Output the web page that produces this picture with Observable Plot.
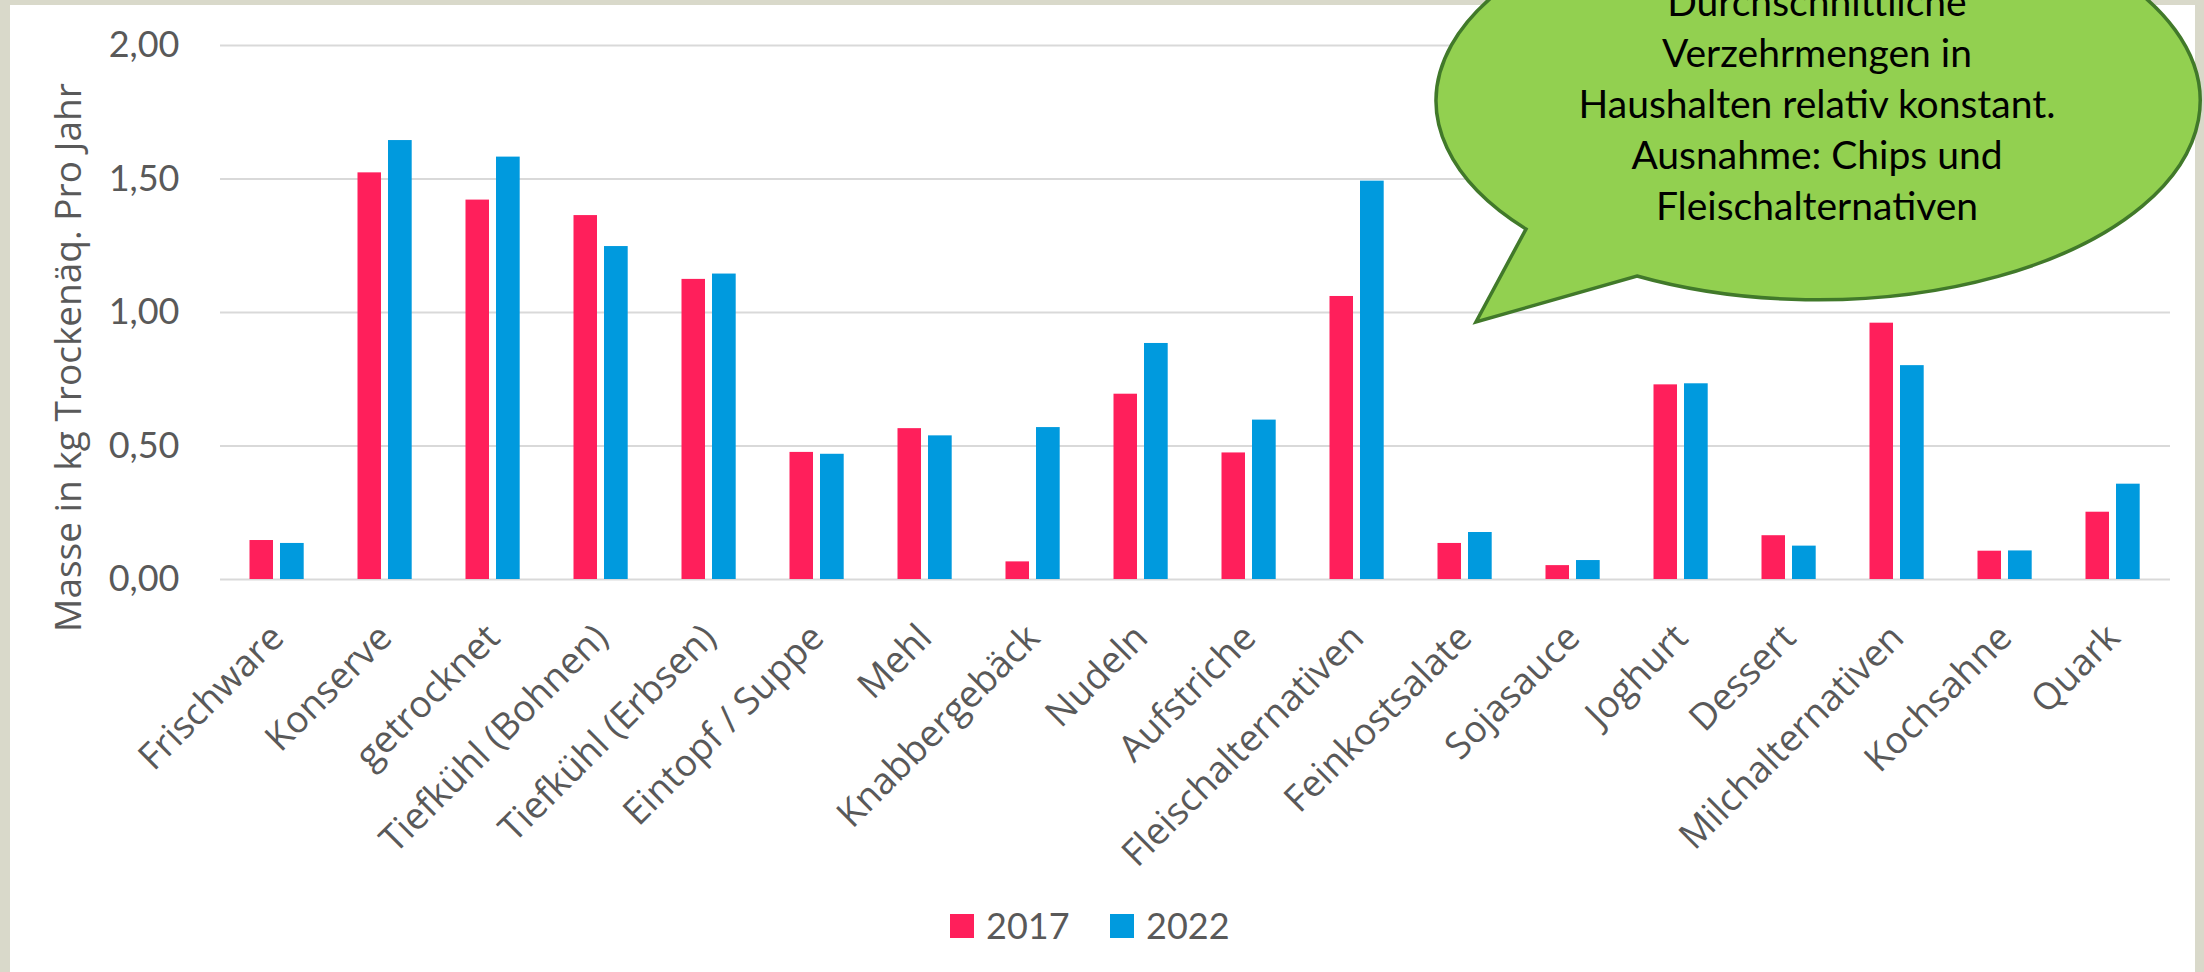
<!DOCTYPE html>
<html><head><meta charset="utf-8">
<script src="https://cdn.jsdelivr.net/npm/d3@7"></script>
<script src="https://cdn.jsdelivr.net/npm/@observablehq/plot@0.6"></script>
<style>
html,body{margin:0;padding:0;}
body{width:2204px;height:972px;position:relative;overflow:hidden;background:#d9d9ca;}
#white{position:absolute;left:10px;top:5px;width:2185px;height:967px;background:#fff;}
#chart{position:absolute;left:0;top:0;}
#legend{position:absolute;left:0;top:880px;}
#bubble{position:absolute;left:0;top:0;}
</style></head><body>
<div id="white"></div>
<div id="chart"></div>
<svg id="legend" width="2204" height="92"></svg>
<svg id="bubble" width="2204" height="972"></svg>
<script>
const categories = ["Frischware","Konserve","getrocknet","Tiefkühl (Bohnen)","Tiefkühl (Erbsen)","Eintopf / Suppe","Mehl","Knabbergebäck","Nudeln","Aufstriche","Fleischalternativen","Feinkostsalate","Sojasauce","Joghurt","Dessert","Milchalternativen","Kochsahne","Quark"];
const values2017 = [0.146,1.523,1.421,1.363,1.124,0.476,0.565,0.066,0.694,0.474,1.060,0.135,0.052,0.729,0.164,0.960,0.106,0.252];
const values2022 = [0.135,1.644,1.582,1.247,1.144,0.469,0.538,0.569,0.884,0.597,1.492,0.176,0.071,0.733,0.125,0.801,0.107,0.357];
const years = ["2017","2022"];
const colors = ["#FF1F5B","#009ADE"];
const yTicks = [0,0.5,1,1.5,2];
const yLabel = "Masse in kg Trockenäq. Pro Jahr";
const bubbleLines = ["Durchschnittliche","Verzehrmengen in","Haushalten relativ konstant.","Ausnahme: Chips und","Fleischalternativen"];

const rows2017 = categories.map((c,i)=>({category:c, value:values2017[i]}));
const rows2022 = categories.map((c,i)=>({category:c, value:values2022[i]}));

const chart = Plot.plot({
  width: 2204, height: 880,
  marginLeft: 220, marginRight: 34, marginTop: 45, marginBottom: 301,
  style: {background:"transparent", color:"#595959", fontFamily:"Lato, sans-serif", fontSize:"36px"},
  x: {domain: categories, padding: 0, axis: null},
  y: {domain: [0,2]},
  marks: [
    Plot.ruleY(yTicks, {stroke:"#d9d9d9", strokeWidth: 2}),
    Plot.barY(rows2017, {x:"category", y:"value", fill: colors[0], insetLeft: 26.5, insetRight: 58}),
    Plot.barY(rows2022, {x:"category", y:"value", fill: colors[1], insetLeft: 57, insetRight: 27.3}),
    Plot.axisY(yTicks, {tickSize:0, tickPadding:41, tickFormat: d => d.toFixed(2).replace(".", ","), fontSize:36, label:null}),
    Plot.text(categories, {x: d => d, text: d => d, frameAnchor:"bottom", dy:52, rotate:-45, textAnchor:"end", lineAnchor:"middle", fontSize:37, fontFamily:"Open Sans", fill:"#595959"}),
    Plot.text([yLabel], {text: d => d, frameAnchor:"left", dx:-140, dy:45, rotate:-90, textAnchor:"middle", lineAnchor:"bottom", fontSize:37, fontFamily:"Open Sans", fill:"#595959"})
  ]
});
document.getElementById("chart").appendChild(chart);

// legend
const lg = d3.select("#legend");
const lx = [950, 1110];
years.forEach((yr,i) => {
  lg.append("rect").attr("x", lx[i]).attr("y", 34).attr("width", 24).attr("height", 24).attr("fill", colors[i]);
  lg.append("text").attr("x", lx[i] + 36).attr("y", 59).attr("font-family","Lato").attr("font-size",36).attr("fill","#595959").text(yr);
});

// speech bubble annotation
const bs = d3.select("#bubble");
const cx = 1817, cy = 103, rx = 382, ry = 199;
const p1 = [1526,229], p2 = [1637,276], tip = [1476,322];
bs.append("path")
  .attr("d", `M${p2[0]},${p2[1]} A${rx},${ry} 0 1 0 ${p1[0]},${p1[1]} L${tip[0]},${tip[1]} Z`)
  .attr("fill","#92D050").attr("stroke","#41792A").attr("stroke-width",3.5).attr("stroke-linejoin","miter");
bs.selectAll("text.b").data(bubbleLines).join("text")
  .attr("class","b").attr("x", cx).attr("y", (d,i) => 16 + i*51)
  .attr("text-anchor","middle").attr("font-family","Lato").attr("font-size",39).attr("fill","#000")
  .text(d => d);
</script>
</body></html>
